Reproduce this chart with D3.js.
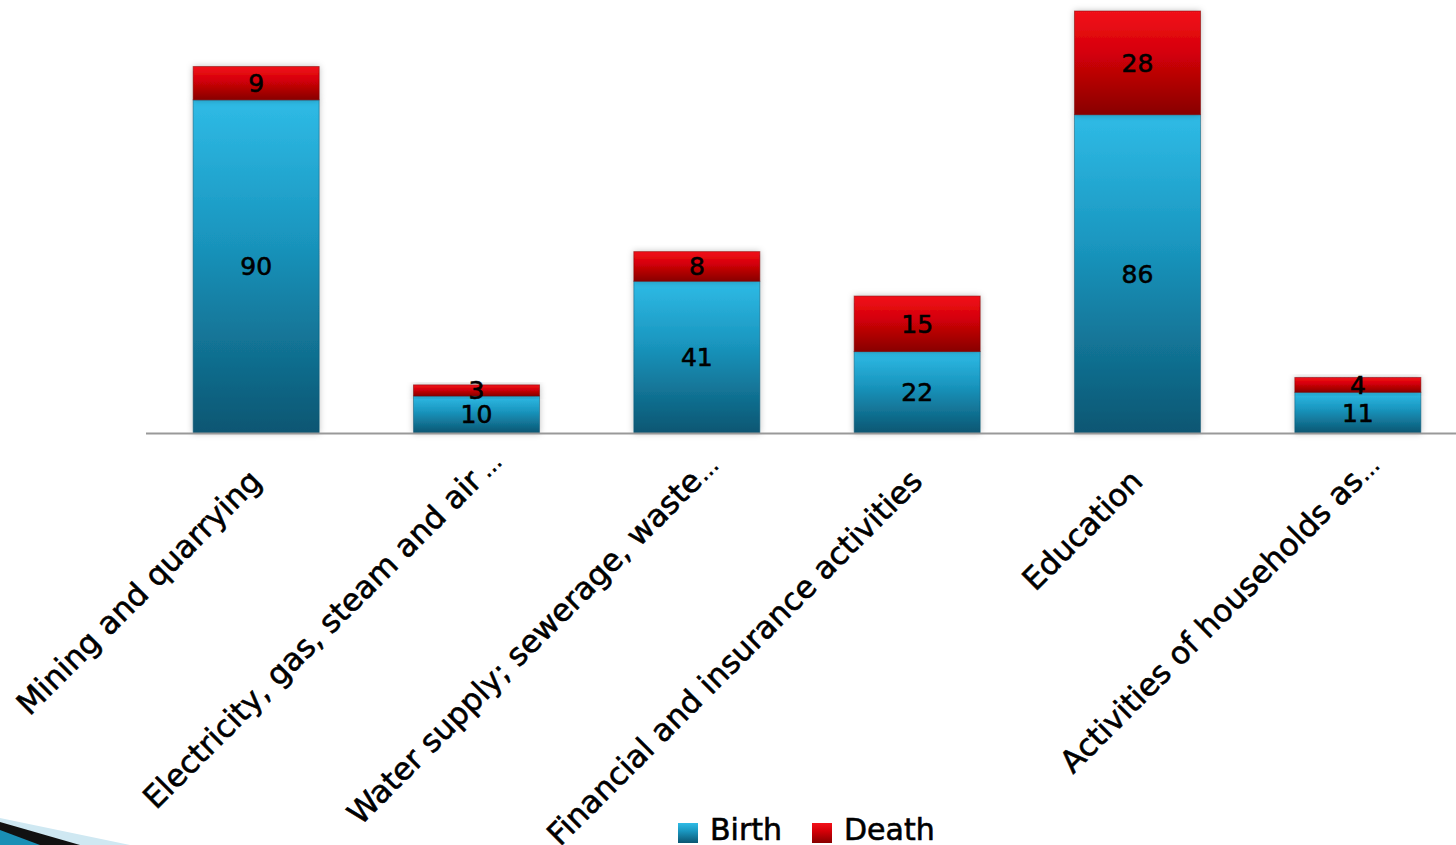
<!DOCTYPE html>
<html>
<head>
<meta charset="utf-8">
<script src="https://cdn.jsdelivr.net/npm/d3@7"></script>
<style>
  body { margin: 0; background: #fff; }
  svg { display: block; font-family: "DejaVu Sans", sans-serif; }
</style>
</head>
<body>
<div id="chart"></div>
<script>
const categories = [
  'Mining and quarrying',
  'Electricity, gas, steam and air …',
  'Water supply; sewerage, waste…',
  'Financial and insurance activities',
  'Education',
  'Activities of households as…'
];
const birth = [90, 10, 41, 22, 86, 11];
const death = [9, 3, 8, 15, 28, 4];
const seriesNames = ['Birth', 'Death'];

const width = 1456, height = 845;
const baseY = 433;

const svg = d3.select('#chart').append('svg')
  .attr('width', width)
  .attr('height', height);

const defs = svg.append('defs');
const grads = {
  Birth: ['#2fbbe6', '#1a97c0', '#0b5672'],
  Death: ['#f2121a', '#d50008', '#880000']
};
Object.entries(grads).forEach(([k, c]) => {
  const g = defs.append('linearGradient')
    .attr('id', 'g' + k).attr('x1', 0).attr('y1', 0).attr('x2', 0).attr('y2', 1);
  g.append('stop').attr('offset', '0%').attr('stop-color', c[0]);
  g.append('stop').attr('offset', '40%').attr('stop-color', c[1]);
  g.append('stop').attr('offset', '100%').attr('stop-color', c[2]);
});
const shadow = defs.append('filter').attr('id', 'sh')
  .attr('x', '-20%').attr('y', '-20%').attr('width', '140%').attr('height', '140%');
shadow.append('feDropShadow').attr('dx', 0).attr('dy', 0)
  .attr('stdDeviation', 3).attr('flood-color', '#000').attr('flood-opacity', 0.25);

// decorative corner swoosh
svg.append('path')
  .attr('d', 'M0,818 L130,845 L0,845 Z')
  .attr('fill', '#cfe8f2');
svg.append('path')
  .attr('d', 'M0,822 L80,845 L0,845 Z')
  .attr('fill', '#111');
svg.append('path')
  .attr('d', 'M0,830 L40,845 L0,845 Z')
  .attr('fill', '#1a8fb5');

const x = d3.scaleBand()
  .domain(categories)
  .range([146, 1468])
  .paddingInner(0.428)
  .paddingOuter(0.214);

const y = d3.scaleLinear()
  .domain([0, 114])
  .range([baseY, 11]);

const data = categories.map((c, i) => ({ cat: c, Birth: birth[i], Death: death[i] }));
const stack = d3.stack().keys(seriesNames)(data);

const layers = svg.append('g').selectAll('g')
  .data(stack)
  .join('g')
  .attr('fill', d => `url(#g${d.key})`);

layers.selectAll('rect')
  .data(d => d.map(v => ({ v, key: d.key })))
  .join('rect')
  .attr('x', d => x(d.v.data.cat))
  .attr('y', d => y(d.v[1]))
  .attr('width', x.bandwidth())
  .attr('height', d => y(d.v[0]) - y(d.v[1]))
  .attr('stroke', d => d.key === 'Birth' ? '#0b5672' : '#7a0000')
  .attr('stroke-opacity', 0.5)
  .attr('filter', 'url(#sh)');

// value labels
stack.forEach(layer => {
  svg.append('g').selectAll('text')
    .data(layer)
    .join('text')
    .attr('x', d => x(d.data.cat) + x.bandwidth() / 2)
    .attr('y', d => (y(d[0]) + y(d[1])) / 2)
    .attr('dy', '0.36em')
    .attr('text-anchor', 'middle')
    .attr('font-size', 25)
    .attr('fill', '#000')
    .attr('stroke', '#000').attr('stroke-width', 0.6)
    .text(d => d[1] - d[0]);
});

// axis line
svg.append('line')
  .attr('x1', 146).attr('x2', width)
  .attr('y1', baseY + 0.5).attr('y2', baseY + 0.5)
  .attr('stroke', '#999').attr('stroke-width', 2);

// category labels (ellipsis hangs past the anchor, as in the original)
const labelG = svg.append('g').selectAll('g')
  .data(categories)
  .join('g')
  .attr('transform', d => `translate(${x(d) + x.bandwidth() / 2 + 7},${baseY + 50}) rotate(-45)`)
  .attr('fill', '#000')
  .attr('stroke', '#000').attr('stroke-width', 0.6);

labelG.append('text')
  .attr('text-anchor', 'end')
  .attr('font-size', 31)
  .text(d => d.replace(/\s*…$/, ''));

labelG.filter(d => d.endsWith('…'))
  .append('text')
  .attr('x', d => / …$/.test(d) ? 6 : 1)
  .attr('font-size', 22)
  .attr('letter-spacing', -1)
  .text('…');

// legend
const legend = svg.append('g');
const lx = [678, 812];
seriesNames.forEach((s, i) => {
  legend.append('rect')
    .attr('x', lx[i]).attr('y', 823).attr('width', 20).attr('height', 20)
    .attr('fill', `url(#g${s})`);
  legend.append('text')
    .attr('x', lx[i] + 32).attr('y', 840)
    .attr('font-size', 30)
    .attr('fill', '#000')
    .attr('stroke', '#000').attr('stroke-width', 0.6)
    .text(s);
});
</script>
</body>
</html>
